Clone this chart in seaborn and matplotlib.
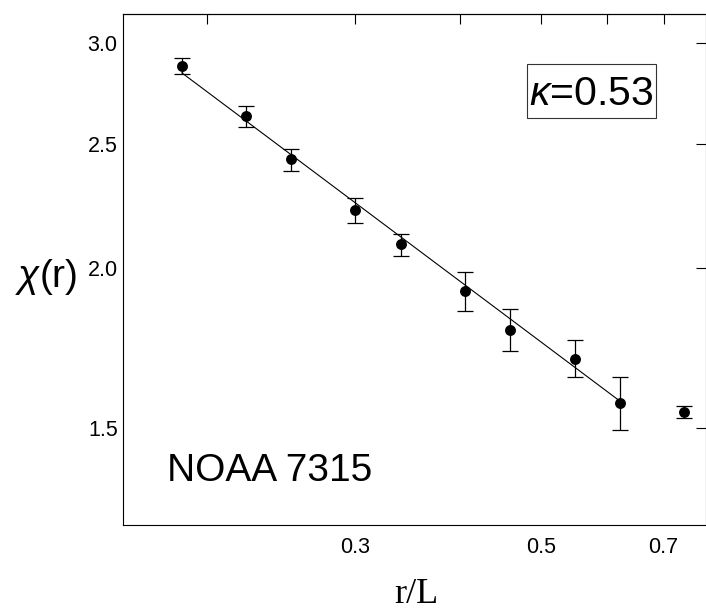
import numpy as np
import matplotlib
matplotlib.use('Agg')
import matplotlib.pyplot as plt
from matplotlib.patches import Rectangle
import seaborn as sns
import pandas as pd

# values (log-log plot)
r_over_L = [0.1865, 0.2223, 0.2517, 0.3002, 0.3401, 0.4057, 0.4598, 0.5490, 0.6219, 0.7403]
chi = [2.881, 2.630, 2.434, 2.222, 2.089, 1.920, 1.790, 1.699, 1.569, 1.544]
chi_hi = [2.923, 2.681, 2.481, 2.272, 2.128, 1.985, 1.858, 1.757, 1.645, 1.560]
chi_lo = [2.840, 2.580, 2.384, 2.170, 2.044, 1.853, 1.723, 1.643, 1.493, 1.527]

# power-law fit drawn through the first nine points
fit_x = [0.1865, 0.6219]
fit_y = [2.845, 1.573]

xticks = [0.3, 0.5, 0.7]
xticklabels = ['0.3', '0.5', '0.7']
top_ticks = [0.2, 0.3, 0.4, 0.5, 0.6, 0.7]
yticks = [1.5, 2.0, 2.5, 3.0]
yticklabels = ['1.5', '2.0', '2.5', '3.0']

df = pd.DataFrame({'r': r_over_L, 'chi': chi})
fit = pd.DataFrame({'r': fit_x, 'chi': fit_y})

sns.set_theme(style='white', rc={'text.color': 'black', 'axes.labelcolor': 'black',
                                 'xtick.color': 'black', 'ytick.color': 'black',
                                 'axes.edgecolor': 'black'})
plt.rcParams['font.family'] = ['Liberation Sans', 'DejaVu Sans']
plt.rcParams['mathtext.fontset'] = 'custom'
plt.rcParams['mathtext.rm'] = 'Liberation Sans'
plt.rcParams['mathtext.it'] = 'Liberation Sans:italic'

fig = plt.figure(figsize=(7.06, 6.10), dpi=100)
ax = fig.add_axes([122.5 / 706, 1 - 525 / 610, (705.5 - 122.5) / 706, (525 - 14) / 610])

ax.set_xscale('log')
ax.set_yscale('log')

yerr = [np.array(chi) - np.array(chi_lo), np.array(chi_hi) - np.array(chi)]
ax.errorbar(r_over_L, chi, yerr=yerr, fmt='none', ecolor='black',
            elinewidth=0.9, capsize=5.8, capthick=0.9, zorder=2)
sns.lineplot(data=fit, x='r', y='chi', color='black', linewidth=0.8, ax=ax, zorder=3)
sns.scatterplot(data=df, x='r', y='chi', color='black', s=62, edgecolor='black',
                linewidth=0, ax=ax, zorder=4)

ax.set_xlim(0.1585, 0.7855)
ax.set_ylim(1.259, 3.163)

ax.set_xticks(xticks, xticklabels)
ax.set_yticks(yticks, yticklabels)
ax.minorticks_off()
ax.tick_params(axis='both', direction='in', length=7.2, width=0.8,
               labelsize=15.5, labelcolor='black')
ax.tick_params(axis='y', right=True, pad=3.5)
ax.tick_params(axis='x', pad=8.5)

sec = ax.secondary_xaxis('top')
sec.set_xticks(top_ticks)
sec.minorticks_off()
sec.tick_params(direction='in', length=7.2, width=0.8, labeltop=False)
sec.spines['top'].set_linewidth(0.8)

for s in ax.spines.values():
    s.set_color('black')
    s.set_linewidth(0.8)

ax.set_xlabel('')
ax.set_ylabel('')

# kappa label with its frame
ax.text(0.698, 0.822, r'$\kappa$=0.53', transform=ax.transAxes, fontsize=29.5,
        ha='left', va='baseline', color='black')
fig.patches.append(Rectangle((527 / 706, 1 - 118 / 610), 129 / 706, 54 / 610,
                             transform=fig.transFigure, fill=False,
                             edgecolor='#333333', linewidth=0.8))

ax.text(0.0758, 0.086, 'NOAA 7315', transform=ax.transAxes, fontsize=28,
        ha='left', va='baseline', color='black')

fig.text(15 / 706, 1 - 287 / 610, r'$\chi$(r)', fontsize=28, ha='left', va='baseline')
fig.text(416 / 706, 1 - 603 / 610, 'r/L', fontsize=26, ha='center', va='baseline',
         family='Liberation Serif')

fig.savefig('out.png', dpi=100)
